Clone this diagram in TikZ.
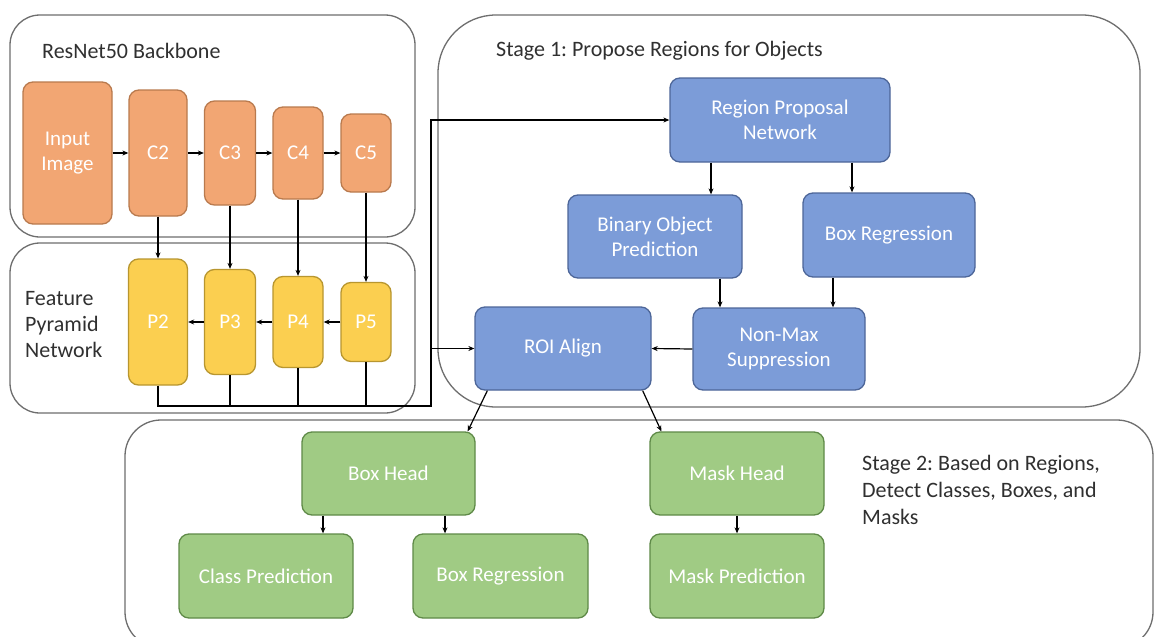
\documentclass[tikz,border=0pt]{standalone}
\usepackage{fontspec}
\setmainfont{Carlito}
\frenchspacing
\usetikzlibrary{arrows.meta,calc}
\definecolor{orfill}{HTML}{F2A673}
\definecolor{ordraw}{HTML}{B97A4E}
\definecolor{yefill}{HTML}{FBCF50}
\definecolor{yedraw}{HTML}{B8962F}
\definecolor{blfill}{HTML}{7C9CD8}
\definecolor{bldraw}{HTML}{4D6699}
\definecolor{grfill}{HTML}{A0CB84}
\definecolor{grdraw}{HTML}{5F8A48}
\definecolor{contdraw}{HTML}{6E6E6E}
\definecolor{titlecol}{HTML}{303030}
\begin{document}
\begin{tikzpicture}[x=1pt,y=-1pt,
  box/.style={rounded corners=10pt, draw, line width=1.3pt, align=center, text=white,
    font=\fontsize{21}{25}\selectfont, inner sep=2pt},
  ob/.style={box, fill=orfill, draw=ordraw},
  yb/.style={box, fill=yefill, draw=yedraw},
  bb/.style={box, fill=blfill, draw=bldraw},
  gb/.style={box, fill=grfill, draw=grdraw},
  cont/.style={draw=contdraw, line width=1.3pt},
  title/.style={font=\fontsize{22}{26}\selectfont, text=titlecol, inner sep=0pt},
  arr/.style={line width=1.2pt, -{Stealth[length=6pt,width=5pt]}},
  ln/.style={line width=1.2pt}]
\useasboundingbox (0,0) rectangle (1154,637);
\fill[white] (0,0) rectangle (1154,637);

% containers
\draw[cont, rounded corners=30pt] (10,15) rectangle (415,237);
\draw[cont, rounded corners=30pt] (10,243) rectangle (415,413);
\draw[cont, rounded corners=58pt] (438,15) rectangle (1140,407);
\draw[cont, rounded corners=36pt] (125,420) rectangle (1153,648);

% titles
\node[title, anchor=west] (tres) at (42,51) {ResNet50 Backbone};
\node[title, anchor=north west, align=left, font=\fontsize{22}{26}\selectfont] (tfpn) at (25,291) {Feature\\Pyramid\\Network};
\node[title, anchor=west] (ts1) at (496,51) {Stage 1: Propose Regions for Objects};
\node[title, anchor=north west, align=left, font=\fontsize{22}{27}\selectfont] (ts2) at (862,455) {Stage 2: Based on Regions,\\Detect Classes, Boxes, and\\Masks};

% backbone
\node[ob, minimum width=89pt, minimum height=142pt] (in) at (67.5,153) {Input\\Image};
\node[ob, minimum width=58pt, minimum height=126pt] (c2) at (158,153) {C2};
\node[ob, minimum width=51pt, minimum height=104pt] (c3) at (230,153) {C3};
\node[ob, minimum width=50pt, minimum height=92pt] (c4) at (298,153) {C4};
\node[ob, minimum width=50pt, minimum height=78pt] (c5) at (366,153) {C5};

% FPN
\node[yb, minimum width=59pt, minimum height=126pt] (p2) at (158,322) {P2};
\node[yb, minimum width=51pt, minimum height=105pt] (p3) at (230,322) {P3};
\node[yb, minimum width=50pt, minimum height=91pt] (p4) at (298,322) {P4};
\node[yb, minimum width=50pt, minimum height=79pt] (p5) at (366,322) {P5};

% stage 1
\node[bb, minimum width=220pt, minimum height=84pt] (rpn) at (780,120) {Region Proposal\\Network};
\node[bb, minimum width=174pt, minimum height=83pt] (bop) at (655,236.5) {Binary Object\\Prediction};
\node[bb, minimum width=172pt, minimum height=84pt] (br1) at (889,235) {Box Regression};
\node[bb, minimum width=176pt, minimum height=83pt] (roi) at (563,348.5) {ROI Align};
\node[bb, minimum width=172pt, minimum height=82pt] (nms) at (779,349) {Non-Max\\Suppression};

% stage 2
\node[gb, minimum width=173pt, minimum height=83pt] (bh) at (388.5,473.5) {Box Head};
\node[gb, minimum width=174pt, minimum height=83pt] (mh) at (737,473.5) {Mask Head};
\node[gb, minimum width=174pt, minimum height=84pt] (cp) at (266,576) {Class Prediction};
\node[gb, minimum width=175pt, minimum height=84pt] (br2) at (500.5,576) {Box Regression};
\node[gb, minimum width=174pt, minimum height=84pt] (mp) at (737,576) {Mask Prediction};

% backbone arrows
\draw[arr] (in.east) -- (c2.west);
\draw[arr] (c2.east) -- (c3.west);
\draw[arr] (c3.east) -- (c4.west);
\draw[arr] (c4.east) -- (c5.west);
\draw[arr] (c2.south) -- (p2.north);
\draw[arr] (c3.south) -- (p3.north);
\draw[arr] (c4.south) -- (p4.north);
\draw[arr] (c5.south) -- (p5.north);
\draw[arr] (p5.west) -- (p4.east);
\draw[arr] (p4.west) -- (p3.east);
\draw[arr] (p3.west) -- (p2.east);

% bus
\coordinate (busr) at (431,406);
\draw[arr] (p2.south) |- (busr) |- (rpn.west);
\draw[ln] (p3.south) -- (p3.south |- busr);
\draw[ln] (p4.south) -- (p4.south |- busr);
\draw[ln] (p5.south) -- (p5.south |- busr);
\draw[arr] (busr |- roi.west) -- (roi.west);

% stage 1 arrows
\draw[arr] ([xshift=-69pt]rpn.south) -- ([xshift=56pt]bop.north);
\draw[arr] ([xshift=72pt]rpn.south) -- ([xshift=-37pt]br1.north);
\draw[arr] ([xshift=65pt]bop.south) -- ([xshift=-59pt]nms.north);
\draw[arr] ([xshift=-56pt]br1.south) -- ([xshift=54pt]nms.north);
\draw[arr] (nms.west) -- (roi.east);

% stage 2 arrows
\draw[arr] ([xshift=13pt]roi.south west) -- ([xshift=-8pt]bh.north east);
\draw[arr] ([xshift=-9pt]roi.south east) -- ([xshift=12pt]mh.north west);
\draw[arr] ([xshift=-65.5pt]bh.south) -- ([xshift=57pt]cp.north);
\draw[arr] ([xshift=56.5pt]bh.south) -- ([xshift=-55.5pt]br2.north);
\draw[arr] (mh.south) -- (mp.north);
\end{tikzpicture}
\end{document}
